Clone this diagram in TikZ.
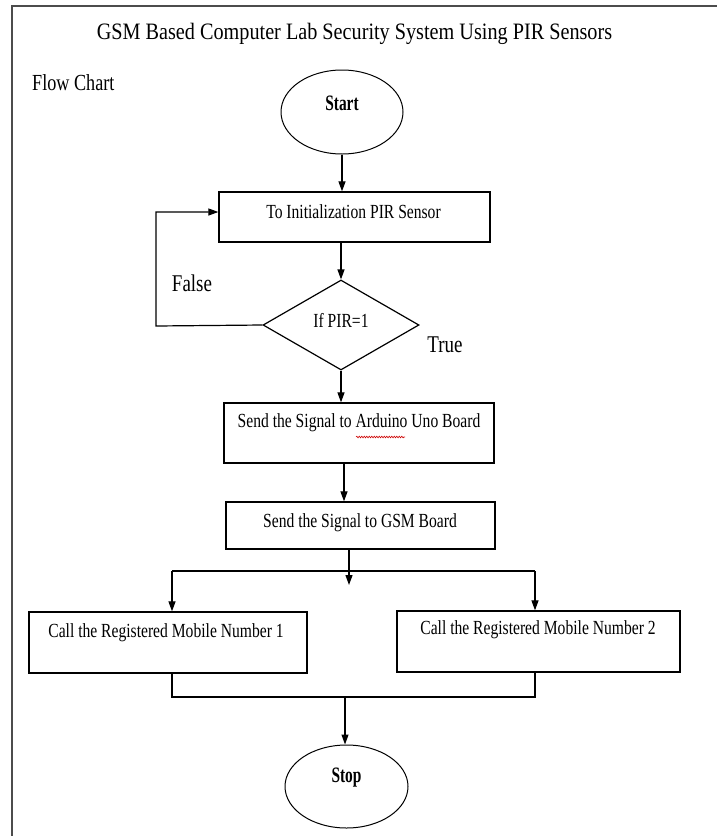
\documentclass[tikz,border=0pt]{standalone}
\usepackage{fontspec}
\setmainfont[FakeStretch=0.86]{Liberation Serif}
\newfontfamily\boxfont[FakeStretch=0.78]{Liberation Serif}
\newfontfamily\ovalfont[FakeStretch=0.7]{Liberation Serif}
\newfontfamily\lblfont[FakeStretch=0.79]{Liberation Serif}
\usetikzlibrary{shapes.geometric,arrows.meta,decorations.pathmorphing}
\begin{document}
\begin{tikzpicture}[x=1pt,y=-1pt,
  boxnode/.style={draw=black, line width=1.3pt, rectangle, inner sep=0pt},
  ovalnode/.style={draw=black, line width=1pt, ellipse, inner sep=0pt},
  decnode/.style={draw=black, line width=1.2pt, diamond, inner sep=0pt},
  txt/.style={inner sep=0pt, font=\boxfont\fontsize{20}{22}\selectfont},
  bold/.style={inner sep=0pt, font=\ovalfont\fontsize{22}{24}\selectfont\bfseries},
  lbl/.style={inner sep=0pt, font=\lblfont\fontsize{24}{26}\selectfont},
  conn/.style={draw=black, line width=1.2pt},
  arr/.style={conn, -{Triangle[length=10pt,width=7pt]}}]
\useasboundingbox (0,0) rectangle (717,836);
% frame
\draw[draw=black!70, line width=2pt] (12,836) -- (12,6) -- (717,6);
% titles
\node[inner sep=0pt, anchor=base, font=\fontsize{23.5}{26}\selectfont] (title) at (354.5,39) {GSM Based Computer Lab Security System Using PIR Sensors};
\node[inner sep=0pt, anchor=base west, font=\lblfont\fontsize{23}{25}\selectfont] (fc) at (32,90) {Flow Chart};
% shapes
\node[ovalnode, minimum width=122pt, minimum height=84pt] (start) at (342,112) {};
\node[bold] (startT) at (342,103) {Start};
\node[boxnode, minimum width=271pt, minimum height=50pt] (b1) at (354.5,217) {};
\node[txt] (b1T) at (353.5,212) {To Initialization PIR Sensor};
\node[decnode, minimum width=156pt, minimum height=90pt] (dia) at (341,325) {};
\node[txt] (diaT) at (341,320) {If PIR=1};
\node[boxnode, minimum width=270pt, minimum height=60pt] (b3) at (359,433) {};
\node[txt] (b3T) at (359,423) {Send the Signal to Arduino Uno Board};
\node[boxnode, minimum width=269pt, minimum height=47pt] (b4) at (360.5,525.5) {};
\node[txt] (b4T) at (360,523) {Send the Signal to GSM Board};
\node[boxnode, minimum width=278pt, minimum height=61pt] (b5) at (168,642.5) {};
\node[txt] (b5T) at (166,633) {Call the Registered Mobile Number 1};
\node[boxnode, minimum width=283pt, minimum height=61pt] (b6) at (538.5,641.5) {};
\node[txt] (b6T) at (538,630) {Call the Registered Mobile Number 2};
\node[ovalnode, minimum width=123pt, minimum height=83pt] (stop) at (346.5,786.5) {};
\node[bold] (stopT) at (346.5,778) {Stop};
\node[lbl] (false) at (192,283) {False};
\node[lbl] (true) at (445,345) {True};
% spell-check squiggle
\draw[red!80!black, line width=0.6pt, decorate, decoration={snake, amplitude=0.8pt, segment length=2.5pt}] (356,437) -- (405,437);
% coordinates
\coordinate (loopC) at (156,326);
\coordinate (split) at (349,571);
\coordinate (dangle) at (349,585);
\coordinate (splitL) at (172,571);
\coordinate (splitR) at (535,571);
\coordinate (joinL) at (172,697);
\coordinate (joinR) at (535,697);
\coordinate (joinM) at (345,697);
% connectors
\draw[arr] (start.south) -- (start.south |- b1.north);
\draw[arr] (b1.south -| dia.north) -- (dia.north);
\draw[arr] (dia.south) -- (dia.south |- b3.north);
\draw[arr] ([xshift=-15pt]b3.south) -- ([xshift=-15pt]b3.south |- b4.north);
\draw[conn] (b4.south -| split) -- (split);
\draw[arr] (split) -- (dangle);
\draw[conn] (splitL) -- (splitR);
\draw[arr] (splitL) -- (splitL |- b5.north);
\draw[arr] (splitR) -- (splitR |- b6.north);
\draw[conn] (joinL |- b5.south) -- (joinL) -- (joinR) -- (joinR |- b6.south);
\draw[arr] (joinM) -- (joinM |- stop.north);
\draw[arr] (dia.west) -- (loopC) |- ([yshift=5pt]b1.west);
\end{tikzpicture}
\end{document}
